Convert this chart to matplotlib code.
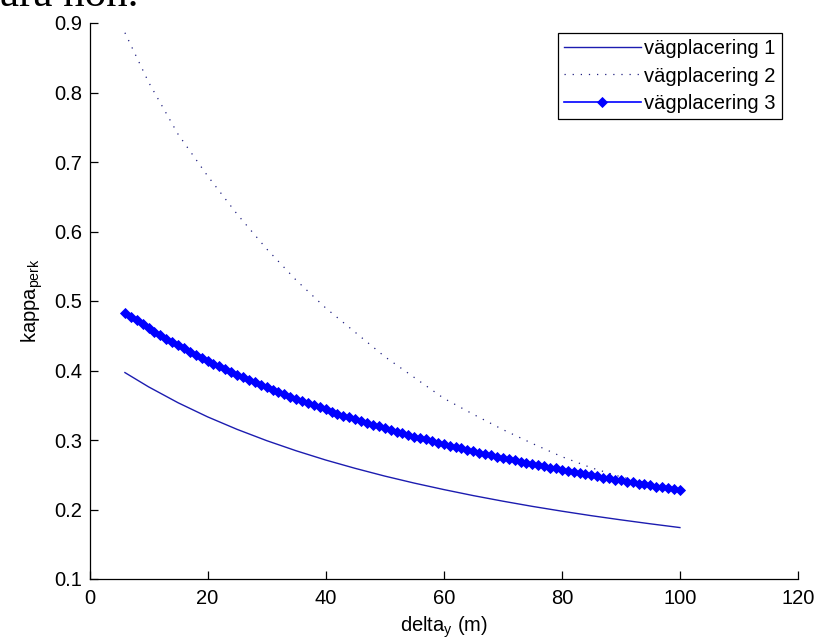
import matplotlib
matplotlib.use("Agg")
import matplotlib.pyplot as plt

plt.rcParams['font.family'] = ['Liberation Sans', 'DejaVu Sans']
plt.rcParams['mathtext.default'] = 'regular'

# series 1 (solid)
x1 = [6, 10, 15, 20, 25, 30, 35, 40, 45, 50, 55, 60, 65, 70, 75, 80, 85, 90, 95, 100]
y1 = [0.397, 0.3765, 0.3536, 0.3333, 0.3153, 0.2991, 0.2845, 0.2712, 0.2592, 0.2481,
      0.2380, 0.2287, 0.2200, 0.2120, 0.2045, 0.1976, 0.1911, 0.1851, 0.1794, 0.1740]

# series 2 (dotted)
x2 = [6, 10, 15, 20, 25, 30, 35, 40, 45, 50, 55, 60, 65, 70, 75, 80, 85, 90, 95, 100]
y2 = [0.886, 0.815, 0.740, 0.680, 0.625, 0.575, 0.530, 0.490, 0.455, 0.420,
      0.390, 0.360, 0.337, 0.315, 0.295, 0.276, 0.260, 0.247, 0.237, 0.229]

# series 3 (line with markers), one point per metre
x3 = list(range(6, 101))
y3 = [0.483, 0.477, 0.472, 0.467, 0.461, 0.456, 0.451, 0.446, 0.441, 0.436,
      0.432, 0.427, 0.423, 0.418, 0.414, 0.410, 0.406, 0.402, 0.398, 0.394,
      0.390, 0.387, 0.383, 0.379, 0.376, 0.372, 0.369, 0.366, 0.362, 0.359,
      0.356, 0.353, 0.350, 0.347, 0.344, 0.341, 0.338, 0.335, 0.333, 0.330,
      0.327, 0.325, 0.322, 0.320, 0.317, 0.315, 0.312, 0.310, 0.307, 0.305,
      0.303, 0.301, 0.298, 0.296, 0.294, 0.292, 0.290, 0.288, 0.286, 0.284,
      0.282, 0.280, 0.278, 0.276, 0.274, 0.272, 0.271, 0.269, 0.267, 0.265,
      0.264, 0.262, 0.260, 0.259, 0.257, 0.255, 0.254, 0.252, 0.251, 0.249,
      0.248, 0.246, 0.245, 0.243, 0.242, 0.240, 0.239, 0.237, 0.236, 0.235,
      0.233, 0.232, 0.231, 0.229, 0.228]

labels = ['vägplacering 1', 'vägplacering 2', 'vägplacering 3']
xticks = [0, 20, 40, 60, 80, 100, 120]
yticks = [0.1, 0.2, 0.3, 0.4, 0.5, 0.6, 0.7, 0.8, 0.9]

FS = 14.5

fig = plt.figure(figsize=(8.16, 6.39), dpi=100)
ax = fig.add_axes([89.5/816, 60/639, (798-89.5)/816, (579-23)/639])

ax.plot(x1, y1, '-', color='#1c1cb0', lw=1.0, label=labels[0])
ax.plot(x2, y2, color='#202080', lw=0.9, linestyle=(0, (1, 5.5)), label=labels[1])
ax.plot(x3, y3, '-', color='#0000ff', lw=1.2, marker='D', ms=4.8,
        markeredgewidth=0.6, label=labels[2])

ax.set_xlim(0, 120)
ax.set_ylim(0.1, 0.9)
ax.set_xticks(xticks)
ax.set_xticklabels([str(t) for t in xticks])
ax.set_yticks(yticks)
ax.set_yticklabels(['%.1f' % t for t in yticks])

for s in ['top', 'right']:
    ax.spines[s].set_visible(False)
for s in ['left', 'bottom']:
    ax.spines[s].set_linewidth(0.9)
ax.tick_params(direction='in', length=5.5, width=0.9, labelsize=FS)
ax.tick_params(axis='x', pad=7)
ax.tick_params(axis='y', pad=5)

ax.set_xlabel('delta$_{y}$ (m)', fontsize=FS, labelpad=5)
ax.set_ylabel('kappa$_{perk}$', fontsize=FS, labelpad=7)

leg = ax.legend(loc='upper right', bbox_to_anchor=(0.977, 0.982), fontsize=FS,
                handlelength=3.8, handletextpad=0.15, borderpad=0.32,
                labelspacing=0.4, borderaxespad=0.0,
                fancybox=False, framealpha=1)
leg.get_frame().set_edgecolor('black')
leg.get_frame().set_linewidth(0.9)

fig.text(0.0, 1 - 6/639, 'ara non.', family='Liberation Serif', fontsize=31,
         va='baseline', ha='left')

fig.savefig('out.png', dpi=100)
